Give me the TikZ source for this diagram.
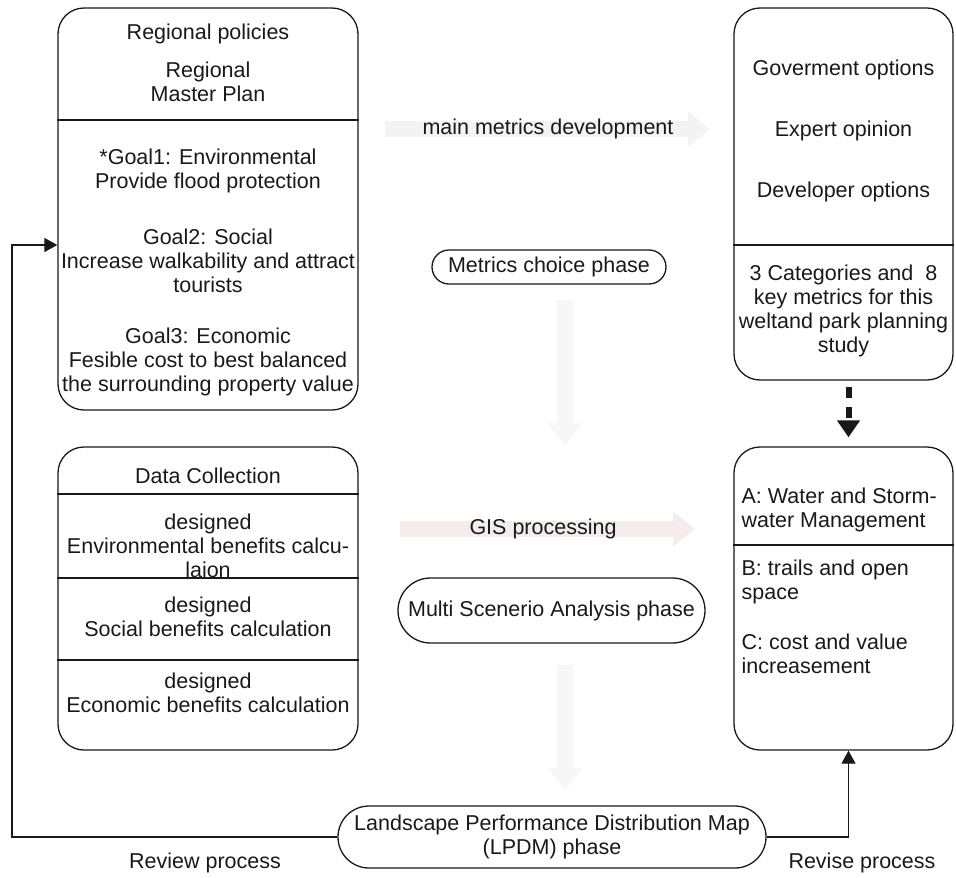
\documentclass[tikz,border=0pt]{standalone}
\usepackage{fontspec}
\setmainfont{Liberation Sans}
\usetikzlibrary{arrows.meta,positioning,shapes.misc}
\definecolor{inkcol}{RGB}{25,25,25}
\definecolor{fadecol}{RGB}{243,243,243}
\definecolor{fadered}{RGB}{245,236,236}

\begin{document}
\begin{tikzpicture}[x=1pt,y=-1pt,line width=1.3pt,inkcol,
  font=\fontsize{21.5}{24}\selectfont,
  >={Triangle[length=13pt,width=14pt]},
  panel/.style={draw,rounded corners=26pt,inner sep=0pt},
  phase/.style={draw,rounded rectangle,inner sep=0pt,align=center},
  txt/.style={align=center,inner sep=0pt},
  fade/.style={line width=16pt,fadecol,-{Triangle[length=22pt,width=34pt]}},
]
\useasboundingbox (0,0) rectangle (956,878);

% --- faint process arrows in the middle column ---
\draw[fade] (385,129) -- (710,129);
\draw[fade,fadecol!70!white] (565,300) -- (565,445);
\draw[fade,fadered] (400,529) -- (695,529);
\draw[fade,fadecol!70!white] (565,665) -- (565,790);

% --- left column: policies and data ---
\node[panel,minimum width=300pt,minimum height=402pt] (policy) at (208,209) {};
\draw (policy.west |- 0,120) -- (policy.east |- 0,120);
\node[txt] (polhead)    at (208,34)  {Regional policies};
\node[txt] (masterplan) at (208,82)  {Regional\\Master Plan};
\node[txt] (goalenv)    at (208,171) {*Goal1: Environmental\\Provide flood protection};
\node[txt] (goalsoc)    at (208,261) {Goal2: Social\\Increase walkability and attract\\tourists};
\node[txt] (goaleco)    at (208,362) {Goal3: Economic\\Fesible cost to best balanced\\the surrounding property value};

\node[panel,minimum width=300pt,minimum height=303pt] (data) at (208,598.5) {};
\draw (data.west |- 0,494) -- (data.east |- 0,494);
\draw (data.west |- 0,578) -- (data.east |- 0,578);
\draw (data.west |- 0,660) -- (data.east |- 0,660);
\node[txt] (datahead) at (208,476) {Data Collection};
\node[txt] (envcalc)  at (208,546) {designed\\Environmental benefits calcu-\\laion};
\node[txt] (soccalc)  at (208,617) {designed\\Social benefits calculation};
\node[txt] (ecocalc)  at (208,693) {designed\\Economic benefits calculation};

% --- right column: opinions and key metrics ---
\node[panel,minimum width=219pt,minimum height=372pt] (opinion) at (843.5,194) {};
\draw (opinion.west |- 0,245) -- (opinion.east |- 0,245);
\node[txt] (govopt) at (843.5,70)  {Goverment options};
\node[txt] (expopt) at (843.5,131) {Expert opinion};
\node[txt] (devopt) at (843.5,192) {Developer options};
\node[txt] (keymetrics) at (843.5,311) {3 Categories and\ \ 8\\key metrics for this\\weltand park planning\\study};

\node[panel,minimum width=219pt,minimum height=303pt] (kpi) at (843.5,598.5) {};
\draw (kpi.west |- 0,545) -- (kpi.east |- 0,545);
\node[txt,align=left,anchor=west] (catA) at (741,510) {A: Water and Storm-\\water Management};
\node[txt,align=left,anchor=west] (catB) at (741,582) {B: trails and open\\space};
\node[txt,align=left,anchor=west] (catC) at (741,654) {C: cost and value\\increasement};

\draw[line width=6pt,dash pattern=on 11pt off 9pt,-{Triangle[length=17pt,width=22pt]}]
  ([xshift=5pt,yshift=-6pt]opinion.south) -- ([xshift=5pt,yshift=9pt]kpi.north);

% --- middle column: phases ---
\node[txt] (devlabel) at (548,129) {main metrics development};
\node[phase,minimum width=234pt,minimum height=34pt] (choice) at (549,267) {Metrics choice phase};
\node[txt] (gislabel) at (543,529) {GIS processing};
\node[phase,minimum width=307pt,minimum height=65pt] (scenario) at (551.5,610.5) {Multi Scenerio Analysis phase};
\node[phase,minimum width=428pt,minimum height=62pt] (lpdm) at (552,837) {Landscape Performance Distribution Map\\(LPDM) phase};

% --- feedback loops ---
\coordinate (reviewturn) at (12,245);
\draw[->] (lpdm.west) -| (reviewturn) -- (policy.west |- reviewturn);
\draw[->] (lpdm.east) -| ([xshift=5pt]kpi.south);
\node[txt] (reviewlabel) at (205,863) {Review process};
\node[txt] (reviselabel) at (862,863) {Revise process};
\end{tikzpicture}
\end{document}
